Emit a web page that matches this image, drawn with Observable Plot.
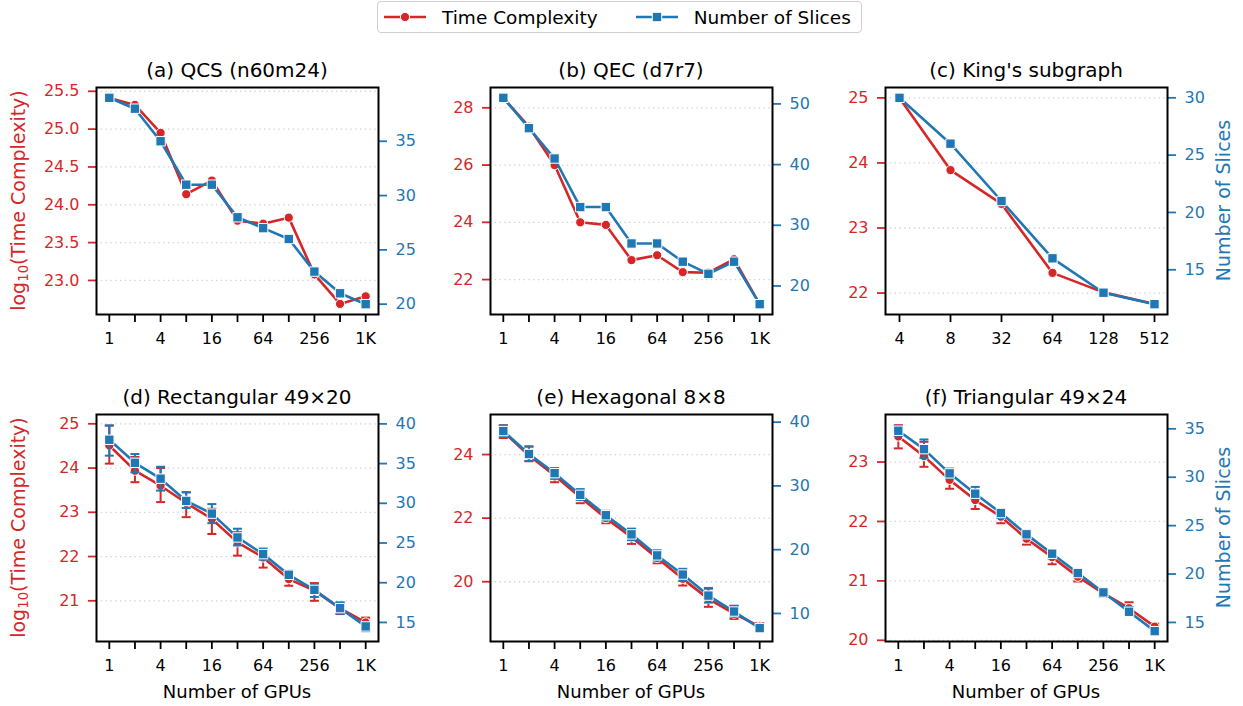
<!DOCTYPE html>
<html><head><meta charset="utf-8">
<script src="https://cdn.jsdelivr.net/npm/d3@7"></script>
<script src="https://cdn.jsdelivr.net/npm/@observablehq/plot@0.6"></script>
<style>
body{margin:0;background:#fff;font-family:"DejaVu Sans",sans-serif;color:#000;}
#fig{position:relative;width:1243px;height:706px;overflow:hidden;}
.panel{position:absolute;}
.panel svg{position:absolute;left:0;top:0;}
.title{position:absolute;text-align:center;font-size:20px;line-height:1;white-space:nowrap;}
.xlabel{position:absolute;text-align:center;font-size:18px;line-height:1;white-space:nowrap;}
.ylabel{position:absolute;text-align:center;font-size:19px;line-height:1;white-space:nowrap;transform:rotate(-90deg);transform-origin:50% 50%;}
.ylabel sub{font-size:70%;vertical-align:-0.25em;line-height:0;}
#legend{position:absolute;box-sizing:border-box;border:1.5px solid #cfcfcf;border-radius:4px;background:#fff;display:flex;align-items:center;font-size:18.5px;}
#legend .item{display:flex;align-items:center;}
</style></head>
<body><div id="fig"></div>
<script>
// ---------- data ----------
const gpus = [1, 2, 4, 8, 16, 32, 64, 128, 256, 512, 1024];
const gpuTickLabels = ["1", "", "4", "", "16", "", "64", "", "256", "", "1K"];
const kingGpus = ["4", "8", "32", "64", "128", "512"];

const seriesNames = ["Time Complexity", "Number of Slices"];
const panelTitles = ["(a) QCS (n60m24)", "(b) QEC (d7r7)", "(c) King's subgraph",
                     "(d) Rectangular 49×20", "(e) Hexagonal 8×8", "(f) Triangular 49×24"];

const qcsTime   = [25.41, 25.32, 24.95, 24.14, 24.32, 23.79, 23.75, 23.83, 23.08, 22.69, 22.79];
const qcsSlices = [39, 38, 35, 31, 31, 28, 27, 26, 23, 21, 20];

const qecTime   = [28.35, 27.34, 26.0, 24.0, 23.91, 22.68, 22.85, 22.26, 22.24, 22.71, 21.14];
const qecSlices = [51, 46, 41, 33, 33, 27, 27, 24, 22, 24, 17];

const kingTime   = [25.0, 23.89, 23.37, 22.31, 22.01, 21.83];
const kingSlices = [30, 26, 21, 16, 13, 12];

const rectTime     = [24.51, 23.94, 23.60, 23.21, 22.85, 22.32, 21.98, 21.49, 21.23, 20.83, 20.51];
const rectTimeLo   = [24.10, 23.68, 23.23, 22.89, 22.51, 22.02, 21.75, 21.34, 21.00, 20.70, 20.42];
const rectTimeHi   = [24.96, 24.25, 24.00, 23.45, 23.08, 22.55, 22.13, 21.60, 21.40, 20.96, 20.62];
const rectSlices   = [38.0, 35.1, 33.1, 30.3, 28.7, 25.7, 23.6, 21.0, 19.1, 16.8, 14.5];
const rectSlicesLo = [36.0, 33.9, 31.6, 29.4, 27.5, 24.7, 22.9, 20.5, 18.2, 16.1, 13.9];
const rectSlicesHi = [39.8, 36.2, 34.6, 31.4, 29.9, 26.8, 24.3, 21.5, 19.8, 17.5, 15.0];

const hexTime     = [24.72, 23.97, 23.34, 22.66, 22.00, 21.40, 20.75, 20.09, 19.46, 19.00, 18.59];
const hexTimeLo   = [24.52, 23.79, 23.13, 22.47, 21.84, 21.19, 20.58, 19.88, 19.21, 18.83, 18.50];
const hexTimeHi   = [24.92, 24.25, 23.55, 22.87, 22.18, 21.61, 20.93, 20.35, 19.78, 19.24, 18.70];
const hexSlices   = [38.6, 35.0, 32.0, 28.6, 25.4, 22.4, 19.1, 16.1, 12.8, 10.3, 7.7];
const hexSlicesLo = [37.7, 33.9, 31.1, 27.8, 24.6, 21.5, 18.3, 15.1, 11.7, 9.5, 7.3];
const hexSlicesHi = [39.5, 36.2, 32.8, 29.5, 26.1, 23.3, 19.9, 17.0, 14.0, 11.2, 8.1];

const triTime     = [23.43, 23.10, 22.70, 22.36, 22.08, 21.71, 21.40, 21.07, 20.79, 20.54, 20.23];
const triTimeLo   = [23.23, 22.92, 22.55, 22.21, 21.97, 21.61, 21.28, 20.99, 20.73, 20.44, 20.16];
const triTimeHi   = [23.62, 23.34, 22.86, 22.52, 22.18, 21.82, 21.51, 21.17, 20.83, 20.64, 20.28];
const triSlices   = [34.8, 32.9, 30.4, 28.3, 26.3, 24.1, 22.1, 20.1, 18.1, 16.1, 14.1];
const triSlicesLo = [34.3, 32.0, 29.9, 27.8, 25.8, 23.8, 21.6, 19.7, 17.9, 15.8, 13.8];
const triSlicesHi = [35.3, 33.9, 30.9, 29.0, 26.7, 24.5, 22.4, 20.4, 18.3, 16.6, 14.5];

const timeTicksA = [23.0, 23.5, 24.0, 24.5, 25.0, 25.5];
const timeTicksB = [22, 24, 26, 28];
const timeTicksC = [22, 23, 24, 25];
const timeTicksD = [21, 22, 23, 24, 25];
const timeTicksE = [20, 22, 24];
const timeTicksF = [20, 21, 22, 23];
const sliceTicksA = [20, 25, 30, 35];
const sliceTicksB = [20, 30, 40, 50];
const sliceTicksC = [15, 20, 25, 30];
const sliceTicksD = [15, 20, 25, 30, 35, 40];
const sliceTicksE = [10, 20, 30, 40];
const sliceTicksF = [15, 20, 25, 30, 35];

// ---------- layout & style ----------
const RED = "#d62728", BLUE = "#1f77b4";
const FRAME_W = 282, FRAME_H = 227;
const colLeft = [96, 490, 885];
const rowTop = [87, 414];
const M = {l: 70, r: 70, t: 12, b: 50};

const panels = [
  {col: 0, row: 0, xs: gpus, time: qcsTime, slices: qcsSlices,
   timeDomain: [22.55, 25.55], slicesDomain: [19.05, 39.95], timeTicks: timeTicksA, sliceTicks: sliceTicksA, fmt: ".1f"},
  {col: 1, row: 0, xs: gpus, time: qecTime, slices: qecSlices,
   timeDomain: [20.78, 28.71], slicesDomain: [15.3, 52.7], timeTicks: timeTicksB, sliceTicks: sliceTicksB},
  {col: 2, row: 0, xs: kingGpus, king: true, time: kingTime, slices: kingSlices,
   timeDomain: [21.67, 25.16], slicesDomain: [11.1, 30.9], timeTicks: timeTicksC, sliceTicks: sliceTicksC},
  {col: 0, row: 1, xs: gpus, time: rectTime, timeLo: rectTimeLo, timeHi: rectTimeHi,
   slices: rectSlices, slicesLo: rectSlicesLo, slicesHi: rectSlicesHi,
   timeDomain: [20.08, 25.21], slicesDomain: [12.6, 41.18], timeTicks: timeTicksD, sliceTicks: sliceTicksD},
  {col: 1, row: 1, xs: gpus, time: hexTime, timeLo: hexTimeLo, timeHi: hexTimeHi,
   slices: hexSlices, slicesLo: hexSlicesLo, slicesHi: hexSlicesHi,
   timeDomain: [18.12, 25.26], slicesDomain: [5.6, 41.2], timeTicks: timeTicksE, sliceTicks: sliceTicksE},
  {col: 2, row: 1, xs: gpus, time: triTime, timeLo: triTimeLo, timeHi: triTimeHi,
   slices: triSlices, slicesLo: triSlicesLo, slicesHi: triSlicesHi,
   timeDomain: [19.98, 23.80], slicesDomain: [13.03, 36.48], timeTicks: timeTicksF, sliceTicks: sliceTicksF}
];

const capSymbol = {draw(ctx, size) { const w = Math.sqrt(size / Math.PI); ctx.moveTo(-w, 0); ctx.lineTo(w, 0); }};
const xLabelMap = new Map(gpus.map((g, i) => [g, gpuTickLabels[i]]));
const fig = document.getElementById("fig");
const svgStyle = {background: "none", overflow: "visible", fontFamily: "DejaVu Sans", fontSize: "16px", color: "black"};

function errorMarks(rows, lo, hi, color) {
  return [
    Plot.ruleX(rows, {x: "x", y1: lo, y2: hi, stroke: color, strokeWidth: 2}),
    Plot.dot(rows, {x: "x", y: lo, symbol: capSymbol, r: 4.5, fill: "none", stroke: color, strokeWidth: 2}),
    Plot.dot(rows, {x: "x", y: hi, symbol: capSymbol, r: 4.5, fill: "none", stroke: color, strokeWidth: 2})
  ];
}

panels.forEach((p, k) => {
  const W = M.l + FRAME_W + M.r, H = M.t + FRAME_H + M.b;
  const rows = p.xs.map((x, i) => ({
    x, t: p.time[i], s: p.slices[i],
    tLo: p.timeLo ? p.timeLo[i] : null, tHi: p.timeHi ? p.timeHi[i] : null,
    sLo: p.slicesLo ? p.slicesLo[i] : null, sHi: p.slicesHi ? p.slicesHi[i] : null
  }));
  const xOpt = p.king
    ? {type: "point", domain: kingGpus, padding: 0.25}
    : {type: "log", base: 2, domain: [Math.SQRT1_2, 1024 * Math.SQRT2]};
  const common = {width: W, height: H, marginLeft: M.l, marginRight: M.r, marginTop: M.t, marginBottom: M.b, style: svgStyle};
  const fmt = p.fmt ? d3.format(p.fmt) : d3.format("d");

  const red = Plot.plot({
    ...common,
    x: xOpt,
    y: {domain: p.timeDomain},
    marks: [
      Plot.gridY(p.timeTicks, {stroke: "#b0b0b0", strokeOpacity: 0.6, strokeWidth: 1.3, strokeDasharray: "1.3,3.5"}),
      ...(p.timeLo ? errorMarks(rows, "tLo", "tHi", RED) : []),
      Plot.line(rows, {x: "x", y: "t", stroke: RED, strokeWidth: 2.6}),
      Plot.dot(rows, {x: "x", y: "t", r: 4.6, fill: RED, stroke: "white", strokeWidth: 1}),
      p.king
        ? Plot.axisX({tickSize: 8, tickPadding: 10, strokeWidth: 1.8, color: "black", label: null})
        : Plot.axisX(gpus, {tickFormat: d => xLabelMap.get(d), tickSize: 8, tickPadding: 10, strokeWidth: 1.8, color: "black", label: null}),
      Plot.axisY(p.timeTicks, {anchor: "left", tickFormat: fmt, tickSize: 8, tickPadding: 9, strokeWidth: 1.8, color: RED, label: null})
    ]
  });

  const blue = Plot.plot({
    ...common,
    x: {...xOpt, axis: null},
    y: {domain: p.slicesDomain},
    marks: [
      ...(p.slicesLo ? errorMarks(rows, "sLo", "sHi", BLUE) : []),
      Plot.line(rows, {x: "x", y: "s", stroke: BLUE, strokeWidth: 2.6}),
      Plot.dot(rows, {x: "x", y: "s", symbol: "square", r: 5.3, fill: BLUE, stroke: "white", strokeWidth: 1}),
      Plot.axisY(p.sliceTicks, {anchor: "right", tickFormat: d3.format("d"), tickSize: 8, tickPadding: 9, strokeWidth: 1.8, color: BLUE, label: null}),
      Plot.frame({stroke: "black", strokeWidth: 2})
    ]
  });

  const wrap = document.createElement("div");
  wrap.className = "panel";
  wrap.style.left = (colLeft[p.col] - M.l) + "px";
  wrap.style.top = (rowTop[p.row] - M.t) + "px";
  wrap.style.width = W + "px";
  wrap.style.height = H + "px";
  wrap.appendChild(red);
  wrap.appendChild(blue);
  fig.appendChild(wrap);

  const t = document.createElement("div");
  t.className = "title";
  t.textContent = panelTitles[k];
  t.style.left = colLeft[p.col] + "px";
  t.style.width = FRAME_W + "px";
  t.style.top = (rowTop[p.row] - 27) + "px";
  fig.appendChild(t);

  if (p.row === 1) {
    const xl = document.createElement("div");
    xl.className = "xlabel";
    xl.textContent = "Number of GPUs";
    xl.style.left = colLeft[p.col] + "px";
    xl.style.width = FRAME_W + "px";
    xl.style.top = (rowTop[p.row] + FRAME_H + 42) + "px";
    fig.appendChild(xl);
  }
  if (p.col === 0) {
    const yl = document.createElement("div");
    yl.className = "ylabel";
    yl.innerHTML = "log<sub>10</sub>(" + seriesNames[0] + ")";
    yl.style.color = RED;
    yl.style.width = "260px";
    yl.style.left = (18 - 130) + "px";
    yl.style.top = (rowTop[p.row] + FRAME_H / 2 - 10) + "px";
    fig.appendChild(yl);
  }
  if (p.col === 2) {
    const yl = document.createElement("div");
    yl.className = "ylabel";
    yl.textContent = seriesNames[1];
    yl.style.color = BLUE;
    yl.style.width = "260px";
    yl.style.left = (1223 - 130) + "px";
    yl.style.top = (rowTop[p.row] + FRAME_H / 2 - 10) + "px";
    fig.appendChild(yl);
  }
});

// ---------- legend ----------
const legend = document.createElement("div");
legend.id = "legend";
legend.style.left = "377px";
legend.style.top = "1px";
legend.style.width = "485px";
legend.style.height = "32px";
const swatches = [
  `<svg width="44" height="14"><line x1="1" y1="7" x2="43" y2="7" stroke="${RED}" stroke-width="2.6"/><circle cx="22" cy="7" r="4.6" fill="${RED}" stroke="white" stroke-width="1"/></svg>`,
  `<svg width="44" height="14"><line x1="1" y1="7" x2="43" y2="7" stroke="${BLUE}" stroke-width="2.6"/><rect x="17.3" y="2.3" width="9.4" height="9.4" fill="${BLUE}" stroke="white" stroke-width="1"/></svg>`
];
legend.innerHTML =
  `<div class="item" style="margin-left:5px">${swatches[0]}<span style="margin-left:15px">${seriesNames[0]}</span></div>` +
  `<div class="item" style="margin-left:37px">${swatches[1]}<span style="margin-left:15px">${seriesNames[1]}</span></div>`;
fig.appendChild(legend);
</script>
</body></html>
